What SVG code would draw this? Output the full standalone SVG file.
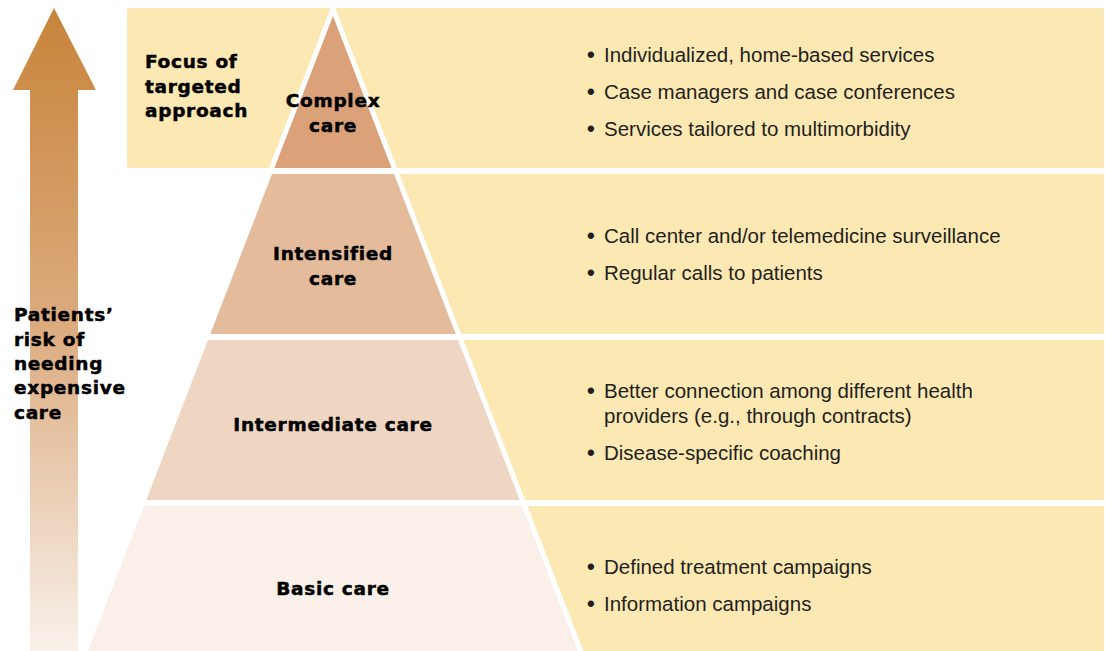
<svg xmlns="http://www.w3.org/2000/svg" width="1105" height="651" viewBox="0 0 1105 651">
<defs>
<linearGradient id="arrowGrad" gradientUnits="userSpaceOnUse" x1="0" y1="8" x2="0" y2="651">
<stop offset="0" stop-color="#c8843a"/>
<stop offset="0.5" stop-color="#dcac80"/>
<stop offset="1" stop-color="#f9f1ea"/>
</linearGradient>
</defs>
<style>
.band{fill:#fce8b2}
.lbl{font-family:"DejaVu Sans","Liberation Sans",sans-serif;font-weight:bold;font-size:18.5px;letter-spacing:0.7px;fill:#000;stroke:#000;stroke-width:0.5px}
.mid{text-anchor:middle}
.blt{font-family:"Liberation Sans",Arial,sans-serif;font-size:20.5px;fill:#231f20}
.dot{font-size:22px;font-weight:bold}
</style>
<rect width="1105" height="651" fill="#ffffff"/>
<g id="bands">
<rect class="band" x="127" y="8" width="977" height="160"/>
<rect class="band" x="300" y="174" width="804" height="160"/>
<rect class="band" x="400" y="340" width="704" height="160"/>
<rect class="band" x="470" y="506" width="634" height="145"/>
</g>
<g id="arrow">
<polygon points="54,8 96,90 78,90 78,651 30,651 30,90 13,90" fill="url(#arrowGrad)"/>
<text class="lbl" x="14" y="321">Patients’</text>
<text class="lbl" x="14" y="345.5">risk of</text>
<text class="lbl" x="14" y="369.5">needing</text>
<text class="lbl" x="14" y="394">expensive</text>
<text class="lbl" x="14" y="418.5">care</text>
</g>
<polygon id="pyramid-outline" points="333,2 82.6,651 583.4,651" fill="#ffffff"/>
<g id="focus">
<text class="lbl" x="145" y="68">Focus of</text>
<text class="lbl" x="145" y="92.5">targeted</text>
<text class="lbl" x="145" y="117">approach</text>
</g>
<g id="complex-care">
<polygon points="333,16 391.6,168 274.4,168" fill="#dba279"/>
<text class="lbl mid" x="333" y="107">Complex</text>
<text class="lbl mid" x="333" y="132">care</text>
<text class="blt"><tspan class="dot" x="587" y="62">•</tspan><tspan x="604" y="62">Individualized, home-based services</tspan></text>
<text class="blt"><tspan class="dot" x="587" y="99">•</tspan><tspan x="604" y="99">Case managers and case conferences</tspan></text>
<text class="blt"><tspan class="dot" x="587" y="136">•</tspan><tspan x="604" y="136">Services tailored to multimorbidity</tspan></text>
</g>
<g id="intensified-care">
<polygon points="272,174 394,174 455.7,334 210.3,334" fill="#e4bb9b"/>
<text class="lbl mid" x="333" y="259.5">Intensified</text>
<text class="lbl mid" x="333" y="284.5">care</text>
<text class="blt"><tspan class="dot" x="587" y="243">•</tspan><tspan x="604" y="243">Call center and/or telemedicine surveillance</tspan></text>
<text class="blt"><tspan class="dot" x="587" y="280">•</tspan><tspan x="604" y="280">Regular calls to patients</tspan></text>
</g>
<g id="intermediate-care">
<polygon points="208,340 458,340 519.7,500 146.3,500" fill="#efd6c3"/>
<text class="lbl mid" x="333" y="431">Intermediate care</text>
<text class="blt"><tspan class="dot" x="587" y="398">•</tspan><tspan x="604" y="398">Better connection among different health</tspan></text>
<text class="blt" x="604" y="422.5">providers (e.g., through contracts)</text>
<text class="blt"><tspan class="dot" x="587" y="460">•</tspan><tspan x="604" y="460">Disease-specific coaching</tspan></text>
</g>
<g id="basic-care">
<polygon points="144,506 522,506 578,651 88,651" fill="#faf0e9"/>
<text class="lbl mid" x="333" y="595">Basic care</text>
<text class="blt"><tspan class="dot" x="587" y="574">•</tspan><tspan x="604" y="574">Defined treatment campaigns</tspan></text>
<text class="blt"><tspan class="dot" x="587" y="610.5">•</tspan><tspan x="604" y="610.5">Information campaigns</tspan></text>
</g>
<g id="connectors"/>
</svg>
